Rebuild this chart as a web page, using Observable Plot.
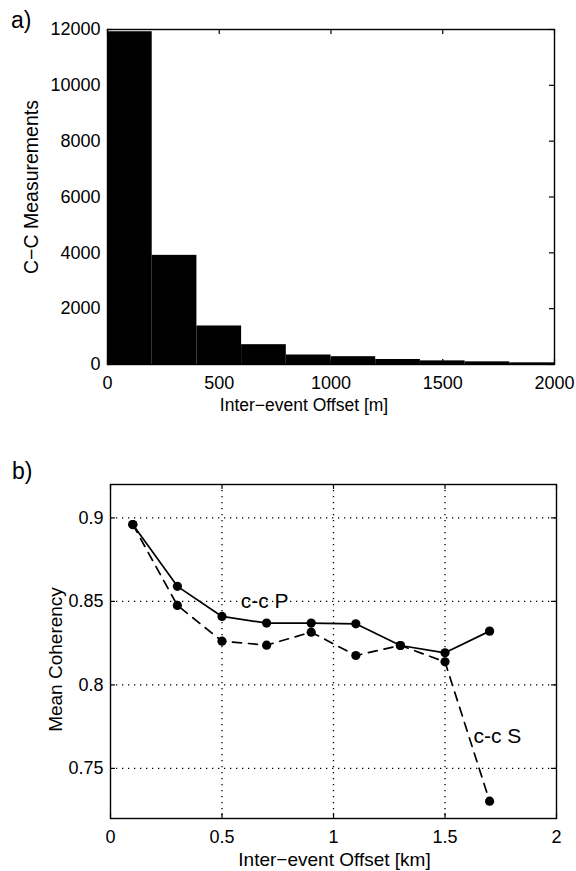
<!DOCTYPE html>
<html><head><meta charset="utf-8">
<script src="https://cdn.jsdelivr.net/npm/d3@7"></script>
<script src="https://cdn.jsdelivr.net/npm/@observablehq/plot@0.6"></script>
<style>
body{margin:0;background:#fff;}
#wrap{position:relative;width:576px;height:871px;font-family:"Liberation Sans",Arial,Helvetica,sans-serif;overflow:hidden;}
#wrap svg{position:absolute;left:0;display:block;}
#wrap g[aria-label$="tick label"]{font-size:18px;}
.tag{position:absolute;font-size:23px;line-height:1;color:#000;}
</style></head><body>
<div id="wrap">
<div class="tag" style="left:11px;top:9px">a)</div>
<div class="tag" style="left:12px;top:460px">b)</div>
</div>
<script>
// ---- Panel a: histogram ----
const binStarts = [0, 200, 400, 600, 800, 1000, 1200, 1400, 1600, 1800];
const binEnds   = [200, 400, 600, 800, 1000, 1200, 1400, 1600, 1800, 2000];
const counts    = [11920, 3910, 1380, 710, 340, 280, 180, 130, 95, 60];
const histXTicks = [0, 500, 1000, 1500, 2000];
const histYTicks = [0, 2000, 4000, 6000, 8000, 10000, 12000];
const histXLabel = "Inter\u2212event Offset [m]";
const histYLabel = "C\u2212C Measurements";

// ---- Panel b: mean coherency ----
const offsetsKm = [0.1, 0.3, 0.5, 0.7, 0.9, 1.1, 1.3, 1.5, 1.7];
const coherP = [0.896, 0.859, 0.841, 0.837, 0.837, 0.8366, 0.8236, 0.8192, 0.8322];
const coherS = [0.896, 0.8476, 0.8262, 0.8238, 0.8316, 0.8176, 0.8236, 0.8138, 0.7304];
const cohXTicks = [0, 0.5, 1, 1.5, 2];
const cohYTicks = [0.75, 0.8, 0.85, 0.9];
const cohXLabel = "Inter\u2212event Offset [km]";
const cohYLabel = "Mean Coherency";
const annotText = ["c-c P", "c-c S"];
const annotX = [0.584, 1.628];
const annotY = [0.85, 0.7694];

const FONT = '"Liberation Sans", Arial, Helvetica, sans-serif';
const hist = binStarts.map((s, i) => ({x1: s, x2: binEnds[i], count: counts[i]}));
const pData = offsetsKm.map((x, i) => ({x, y: coherP[i]}));
const sData = offsetsKm.map((x, i) => ({x, y: coherS[i]}));
const annot = annotText.map((t, i) => ({t, x: annotX[i], y: annotY[i]}));
const fmt = d => String(d);
const TL = 5; // inward tick length (px)

function innerTicks(xt, yt, w, h) {
  return [
    Plot.tickX(xt, {x: d => d, stroke: "black", strokeWidth: 1.2, insetTop: h - TL}),
    Plot.tickX(xt, {x: d => d, stroke: "black", strokeWidth: 1.2, insetBottom: h - TL}),
    Plot.tickY(yt, {y: d => d, stroke: "black", strokeWidth: 1.2, insetRight: w - TL}),
    Plot.tickY(yt, {y: d => d, stroke: "black", strokeWidth: 1.2, insetLeft: w - TL})
  ];
}

const W1 = 576 - 107 - 22, H1 = 430 - 29 - 66;
const p1 = Plot.plot({
  width: 576, height: 430,
  marginTop: 29, marginBottom: 66, marginLeft: 107, marginRight: 22,
  style: {fontFamily: FONT, fontSize: "18px", color: "#000", background: "transparent", overflow: "visible"},
  x: {domain: [0, 2000]},
  y: {domain: [0, 12000]},
  marks: [
    Plot.rectY(hist, {x1: "x1", x2: "x2", y: "count", fill: "black"}),
    ...innerTicks(histXTicks, histYTicks, W1, H1),
    Plot.frame({stroke: "black", strokeWidth: 1.4}),
    Plot.axisX({ticks: histXTicks, tickSize: 0, tickPadding: 12, tickFormat: fmt, label: null}),
    Plot.axisY({ticks: histYTicks, tickSize: 0, tickPadding: 7, tickFormat: fmt, label: null}),
    Plot.text([histXLabel], {text: d => d, frameAnchor: "bottom", textAnchor: "middle", lineAnchor: "middle", dy: 41, dx: -27, fontSize: 17.5}),
    Plot.text([histYLabel], {text: d => d, frameAnchor: "left", textAnchor: "middle", lineAnchor: "middle", rotate: -90, dx: -76, dy: -10, fontSize: 19.5})
  ]
});
p1.style.top = "0px";

const W2 = 576 - 110 - 20, H2 = 441 - 54 - 53;
const p2 = Plot.plot({
  width: 576, height: 441,
  marginTop: 54, marginBottom: 53, marginLeft: 110, marginRight: 20,
  style: {fontFamily: FONT, fontSize: "18px", color: "#000", background: "transparent", overflow: "visible"},
  x: {domain: [0, 2]},
  y: {domain: [0.72, 0.92]},
  marks: [
    Plot.gridX({ticks: [0.5, 1, 1.5], stroke: "black", strokeOpacity: 1, strokeWidth: 1.3, strokeDasharray: "1.3,4.7"}),
    Plot.gridY({ticks: cohYTicks, stroke: "black", strokeOpacity: 1, strokeWidth: 1.3, strokeDasharray: "1.3,4.7"}),
    ...innerTicks(cohXTicks, cohYTicks, W2, H2),
    Plot.line(pData, {x: "x", y: "y", stroke: "black", strokeWidth: 1.7}),
    Plot.line(sData, {x: "x", y: "y", stroke: "black", strokeWidth: 1.7, strokeDasharray: "9,7"}),
    Plot.dot(pData, {x: "x", y: "y", r: 4.6, fill: "black", stroke: "none"}),
    Plot.dot(sData, {x: "x", y: "y", r: 4.6, fill: "black", stroke: "none"}),
    Plot.text(annot, {x: "x", y: "y", text: "t", textAnchor: "start", lineAnchor: "middle", fontSize: 21, fill: "black"}),
    Plot.frame({stroke: "black", strokeWidth: 1.4}),
    Plot.axisX({ticks: cohXTicks, tickSize: 0, tickPadding: 12, tickFormat: fmt, label: null}),
    Plot.axisY({ticks: cohYTicks, tickSize: 0, tickPadding: 7, tickFormat: fmt, label: null}),
    Plot.text([cohXLabel], {text: d => d, frameAnchor: "bottom", textAnchor: "middle", lineAnchor: "middle", dy: 41, dx: 1, fontSize: 19}),
    Plot.text([cohYLabel], {text: d => d, frameAnchor: "left", textAnchor: "middle", lineAnchor: "middle", rotate: -90, dx: -55, dy: 8, fontSize: 19})
  ]
});
p2.style.top = "430px";

const wrap = document.getElementById("wrap");
wrap.appendChild(p1);
wrap.appendChild(p2);
</script>
</body></html>
